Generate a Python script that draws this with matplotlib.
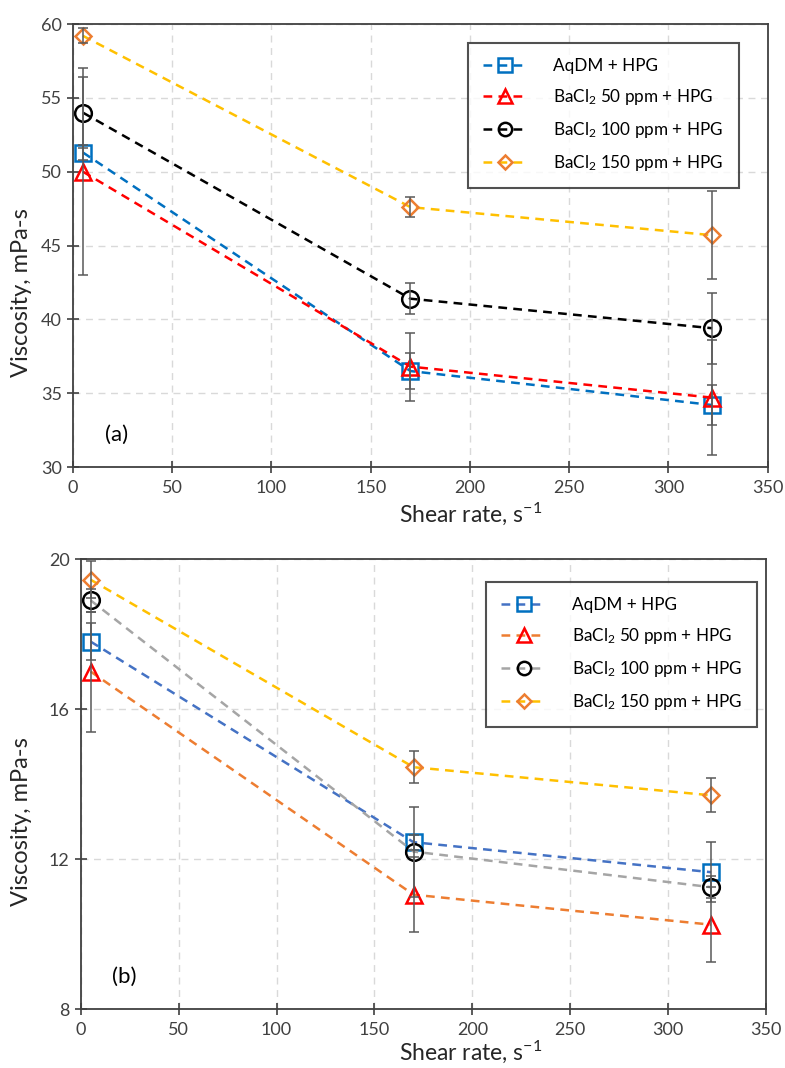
import matplotlib
matplotlib.use("Agg")
import matplotlib.pyplot as plt
import numpy as np

plt.rcParams['font.family'] = ['Lato', 'DejaVu Sans']
plt.rcParams['mathtext.fontset'] = 'custom'
plt.rcParams['mathtext.rm'] = 'Lato'
plt.rcParams['mathtext.it'] = 'Lato:italic'
plt.rcParams['mathtext.bf'] = 'Lato:bold'

# ── Data ───────────────────────────────────────────────
shear = [5, 170, 322]
labels = ['AqDM + HPG', 'BaCl$_2$ 50 ppm + HPG',
          'BaCl$_2$ 100 ppm + HPG', 'BaCl$_2$ 150 ppm + HPG']

# panel (a)
visc_a = [[51.3, 36.5, 34.2],
          [50.0, 36.8, 34.7],
          [54.0, 41.4, 39.4],
          [59.2, 47.6, 45.7]]
err_a = [[0.5, 1.2, 1.35],
         [7.0, 2.3, 3.9],
         [2.4, 1.05, 2.4],
         [0.5, 0.7, 3.0]]

# panel (b)
visc_b = [[17.8, 12.45, 11.65],
          [17.0, 11.05, 10.25],
          [18.9, 12.2, 11.25],
          [19.45, 14.45, 13.7]]
err_b = [[0.5, 0.2, 0.8],
         [1.6, 1.0, 1.0],
         [0.3, 1.2, 0.3],
         [0.5, 0.42, 0.45]]

markers = ['s', '^', 'o', 'D']
msizes = [12, 12, 12, 8.5]
edge_cols = ['#0070C0', '#FF0000', '#000000', '#ED7D31']
line_cols_a = ['#0070C0', '#FF0000', '#000000', '#FFC000']
line_cols_b = ['#4472C4', '#ED7D31', '#A5A5A5', '#FFC000']


def panel(ax, visc, err, line_cols, ylim, yticks, tag, leg_anchor, xlab_pos, ylab_pos):
    for i in range(4):
        ax.errorbar(shear, visc[i], yerr=err[i], fmt='none', ecolor='#595959',
                    elinewidth=1.1, capsize=3.5, capthick=1.1, zorder=4)
    for i in range(4):
        ax.plot(shear, visc[i], linestyle=(0, (3.5, 2.5)), color=line_cols[i], lw=1.8,
                marker=markers[i], ms=msizes[i], mfc='none', mec=edge_cols[i],
                mew=1.8, label=labels[i], zorder=3)
    ax.set_xlim(0, 350)
    ax.set_ylim(*ylim)
    ax.set_xticks(np.arange(0, 351, 50))
    ax.set_yticks(yticks)
    ax.grid(True, color='#D9D9D9', linestyle=(0, (5, 4)), lw=1)
    ax.set_axisbelow(True)
    ax.tick_params(direction='inout', length=9, width=1.2, labelsize=13,
                   color='#404040', labelcolor='#404040')
    ax.tick_params(axis='x', pad=5)
    for s in ax.spines.values():
        s.set_color('#404040')
        s.set_linewidth(1.3)
    ax.set_xlabel('Shear rate, s$^{-1}$', fontsize=16.5, color='#262626', va='center')
    ax.xaxis.set_label_coords(*xlab_pos)
    ax.set_ylabel('Viscosity, mPa-s', fontsize=17, color='#262626')
    ax.yaxis.set_label_coords(*ylab_pos)
    ax.text(0.063, 0.072, tag, transform=ax.transAxes, fontsize=16,
            ha='center', va='center', color='#000000')
    leg = ax.legend(loc='upper right', bbox_to_anchor=leg_anchor, fontsize=12.3,
                    frameon=True, fancybox=False, edgecolor='#262626',
                    handlelength=2.6, labelspacing=0.75, borderpad=0.9,
                    markerscale=0.8, handletextpad=1.5, borderaxespad=0)
    leg.get_frame().set_linewidth(1.5)


fig = plt.figure(figsize=(7.85, 10.68), dpi=100)
ax1 = fig.add_axes([0.093, 0.5627, 0.885, 0.4148])
ax2 = fig.add_axes([0.103, 0.0552, 0.8726, 0.4213])

panel(ax1, visc_a, err_a, line_cols_a, (30, 60), np.arange(30, 61, 5), '(a)',
      (0.958, 0.957), (0.573, -0.106), (-0.059, 0.393))
panel(ax2, visc_b, err_b, line_cols_b, (8, 20), np.arange(8, 21, 4), '(b)',
      (0.987, 0.949), (0.569, -0.095), (-0.0715, 0.416))

fig.savefig('out.png', dpi=100)
